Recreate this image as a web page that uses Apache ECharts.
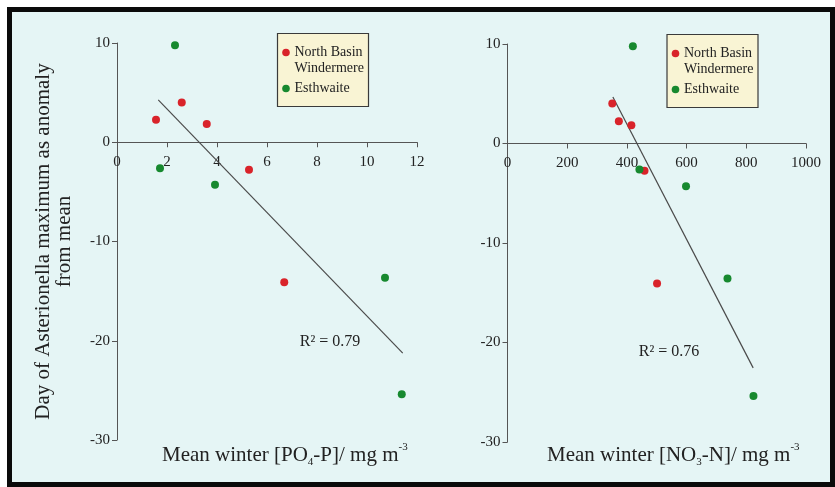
<!DOCTYPE html>
<html>
<head>
<meta charset="utf-8">
<script src="https://cdn.jsdelivr.net/npm/echarts@6/dist/echarts.min.js"></script>
<style>
  html, body { margin: 0; padding: 0; background: #ffffff; }
  #frame {
    position: absolute; left: 7px; top: 7px; width: 828px; height: 480px;
    box-sizing: border-box; border: 5px solid #0a0a0a; background: #e5f5f5;
  }
  #chart { position: absolute; left: 0; top: 0; width: 835px; height: 487px; }
</style>
</head>
<body>
<div id="frame"></div>
<div id="chart"></div>
<script>
// Day of the Asterionella spring maximum (anomaly from mean, days)
// against mean winter phosphate and nitrate concentrations.
const seriesNames = ['North Basin Windermere', 'Esthwaite'];

// Phosphate panel
const poWinX = [1.56, 2.59, 3.59, 5.28, 6.69];
const poWinY = [2.26, 4.0, 1.85, -2.78, -14.1];
const poEstX = [2.32, 1.72, 3.92, 10.72, 11.39];
const poEstY = [9.77, -2.62, -4.29, -13.66, -25.4];
const poFitX = [1.65, 11.43];
const poFitY = [4.27, -21.25];
const poR2 = '0.79';

// Nitrate panel
const noWinX = [351, 373, 415, 459, 501];
const noWinY = [4.02, 2.24, 1.84, -2.75, -14.07];
const noEstX = [420, 442, 598, 737, 824];
const noEstY = [9.78, -2.61, -4.29, -13.57, -25.37];
const noFitX = [353, 823];
const noFitY = [4.68, -22.55];
const noR2 = '0.76';

const yTicks = { min: -30, max: 10, interval: 10 };
const poTicks = { min: 0, max: 12, interval: 2 };
const noTicks = { min: 0, max: 1000, interval: 200 };

const zip = (xs, ys) => xs.map((x, i) => [x, ys[i]]);

const SERIF = '"Liberation Serif", "DejaVu Serif", serif';
const RED = '#d9232a';
const GREEN = '#17892f';
const AXIS = '#555555';
const INK = '#222222';

const grids = [
  { left: 117, top: 43, width: 300, height: 397 },
  { left: 507.5, top: 44, width: 298.5, height: 398 }
];
// the x axis crosses the y axis at zero: lift it from the grid bottom to y = 0
function zeroOffset(g) {
  return -g.height * (0 - yTicks.min) / (yTicks.max - yTicks.min);
}

function xAxisFor(grid, t) {
  return {
    type: 'value', gridIndex: grid, min: t.min, max: t.max, interval: t.interval,
    position: 'bottom', offset: zeroOffset(grids[grid]),
    axisLine: { onZero: false, lineStyle: { color: AXIS, width: 1 } },
    axisTick: { show: true, length: 5, lineStyle: { color: AXIS } },
    axisLabel: { margin: 12, color: INK, fontFamily: SERIF, fontSize: 15,
      showMinLabel: true, showMaxLabel: true, formatter: v => String(v) },
    splitLine: { show: false }
  };
}
function yAxisFor(grid, withName) {
  return {
    type: 'value', gridIndex: grid, min: yTicks.min, max: yTicks.max, interval: yTicks.interval,
    axisLine: { show: true, onZero: false, lineStyle: { color: AXIS, width: 1 } },
    axisTick: { show: true, length: 5, lineStyle: { color: AXIS } },
    axisLabel: { margin: 7, color: INK, fontFamily: SERIF, fontSize: 15 },
    splitLine: { show: false },
    name: withName ? 'Day of Asterionella maximum as anomaly\nfrom mean' : '',
    nameLocation: 'middle', nameRotate: 90, nameGap: 42,
    nameTextStyle: { fontFamily: SERIF, fontSize: 21, color: INK, lineHeight: 21 }
  };
}
function dots(name, xi, data, color) {
  return {
    type: 'scatter', name, xAxisIndex: xi, yAxisIndex: xi, data,
    symbol: 'circle', symbolSize: 8, itemStyle: { color, opacity: 1 }, z: 3
  };
}
function fit(xi, xs, ys) {
  return {
    type: 'line', xAxisIndex: xi, yAxisIndex: xi, data: zip(xs, ys),
    symbol: 'none', lineStyle: { color: '#4a4a4a', width: 1.2 }, z: 2, silent: true
  };
}
function legendBox(x, y) {
  const t = (tx, ty, s) => ({ type: 'text', x: tx, y: ty,
    style: { text: s, font: '14px ' + SERIF, fill: INK, verticalAlign: 'middle' } });
  return {
    type: 'group', x, y,
    children: [
      { type: 'rect', shape: { x: 0, y: 0, width: 91, height: 73 },
        style: { fill: '#f9f4d4', stroke: '#3a3a3a', lineWidth: 1.2 } },
      { type: 'circle', shape: { cx: 8.5, cy: 19, r: 3.8 }, style: { fill: RED } },
      t(17, 19, 'North Basin'),
      t(17, 35, 'Windermere'),
      { type: 'circle', shape: { cx: 8.5, cy: 55, r: 3.8 }, style: { fill: GREEN } },
      t(17, 55, seriesNames[1])
    ]
  };
}
function axisTitle(x, y, chem) {
  return {
    type: 'text', x, y,
    style: {
      text: '{n|Mean winter [' + chem[0] + '}{s|' + chem[1] + '}{n|-' + chem[2] + ']/ mg m}{p|-3}',
      verticalAlign: 'middle', fill: INK,
      rich: {
        n: { fontFamily: SERIF, fontSize: 21, lineHeight: 26, fill: INK },
        s: { fontFamily: SERIF, fontSize: 11, lineHeight: 12, verticalAlign: 'bottom', fill: INK },
        p: { fontFamily: SERIF, fontSize: 11, lineHeight: 12, verticalAlign: 'top', fill: INK }
      }
    }
  };
}
function r2Label(x, y, v) {
  return { type: 'text', x, y,
    style: { text: 'R² = ' + v, font: '16px ' + SERIF, fill: INK, align: 'center', verticalAlign: 'middle' } };
}

const chart = echarts.init(document.getElementById('chart'), null, { renderer: 'canvas' });
chart.setOption({
  backgroundColor: 'transparent',
  animation: false,
  grid: grids,
  xAxis: [xAxisFor(0, poTicks), xAxisFor(1, noTicks)],
  yAxis: [yAxisFor(0, true), yAxisFor(1, false)],
  series: [
    fit(0, poFitX, poFitY),
    dots(seriesNames[0], 0, zip(poWinX, poWinY), RED),
    dots(seriesNames[1], 0, zip(poEstX, poEstY), GREEN),
    fit(1, noFitX, noFitY),
    dots(seriesNames[0], 1, zip(noWinX, noWinY), RED),
    dots(seriesNames[1], 1, zip(noEstX, noEstY), GREEN)
  ],
  graphic: [
    legendBox(277.5, 33.5),
    legendBox(667, 34.5),
    r2Label(330, 342, poR2),
    r2Label(669, 352, noR2),
    axisTitle(162, 455, ['PO', '4', 'P']),
    axisTitle(547, 455, ['NO', '3', 'N'])
  ]
});
</script>
</body>
</html>
